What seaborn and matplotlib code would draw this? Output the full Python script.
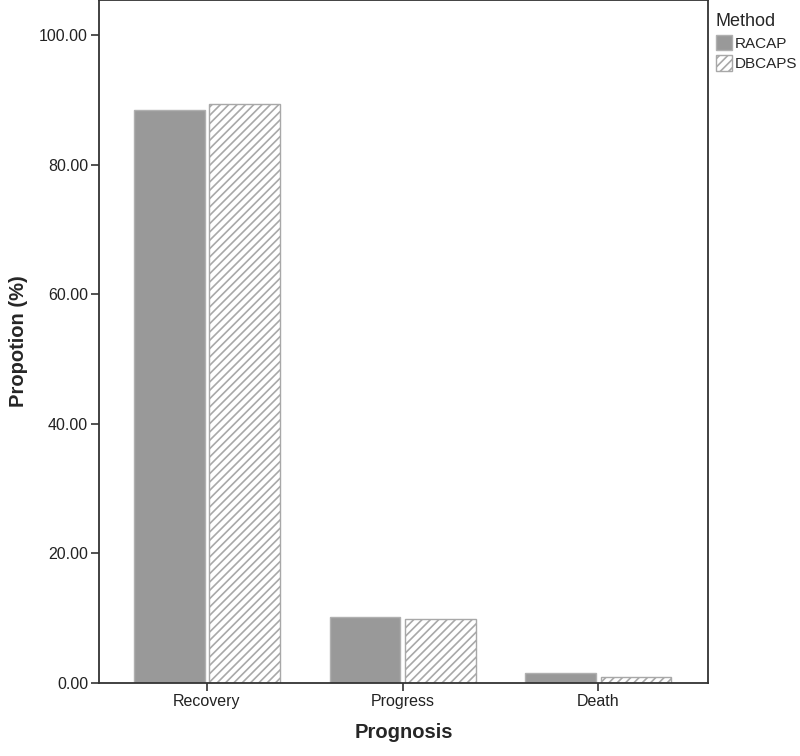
import matplotlib
matplotlib.use("Agg")
import matplotlib.pyplot as plt
import seaborn as sns
import pandas as pd
from matplotlib.patches import Patch

categories = ["Recovery", "Progress", "Death"]
methods = ["RACAP", "DBCAPS"]
racap = [88.4, 10.2, 1.5]
dbcaps = [89.3, 9.9, 0.9]
yticks = [0, 20, 40, 60, 80, 100]

df = pd.DataFrame({
    "Prognosis": categories * 2,
    "Method": [methods[0]] * 3 + [methods[1]] * 3,
    "Value": racap + dbcaps,
})

sns.set_theme(style="white")
plt.rcParams['font.family'] = ['Liberation Sans', 'DejaVu Sans']
plt.rcParams['hatch.color'] = '#9a9a9a'
plt.rcParams['hatch.linewidth'] = 1.2

fig = plt.figure(figsize=(8, 7.56), dpi=100)
ax = fig.add_axes([0.124, 0.0966, 0.761, 0.9034])

sns.barplot(data=df, x="Prognosis", y="Value", hue="Method", order=categories,
            hue_order=methods, palette=["#999999", "white"], width=0.77,
            errorbar=None, ax=ax, legend=False, saturation=1)

n = len(categories)
for i, p in enumerate(ax.patches[:2 * n]):
    if i < n:
        p.set_facecolor("#999999")
        p.set_edgecolor("#b0b0b0")
        p.set_linewidth(1.0)
    else:
        p.set_facecolor("white")
        p.set_edgecolor("#a8a8a8")
        p.set_hatch("////")
        p.set_linewidth(1.0)
    w = p.get_width()
    p.set_x(p.get_x() + w * 0.03)
    p.set_width(w * 0.94)

ax.set_xlim(-0.55, 2.56)
ax.set_ylim(0, 105.4)
ax.set_yticks(yticks)
ax.set_yticklabels([f"{v:.2f}" for v in yticks], fontsize=11.5, color="#222222")
ax.tick_params(axis="x", labelsize=11.5, labelcolor="#222222")
ax.tick_params(axis="both", direction="out", length=6, width=1.2, color="#333333",
               bottom=True, left=True, pad=2)
ax.set_xlabel("Prognosis", fontsize=14.5, fontweight="bold", labelpad=10)
ax.set_ylabel("Propotion (%)", fontsize=14.5, fontweight="bold", labelpad=8)
for s in ax.spines.values():
    s.set_color("#333333")
    s.set_linewidth(1.3)

handles = [Patch(facecolor="#999999", edgecolor="#b0b0b0", label="RACAP"),
           Patch(facecolor="white", edgecolor="#a8a8a8", hatch="////", label="DBCAPS")]
leg = fig.legend(handles=handles, title="Method", loc="upper left",
                 bbox_to_anchor=(0.883, 0.995), frameon=False, fontsize=11,
                 title_fontsize=13, handlelength=1.1, handleheight=1.2,
                 handletextpad=0.15, labelspacing=0.3, borderaxespad=0.2)
leg._legend_box.align = "left"

fig.savefig("out.png", dpi=100)
